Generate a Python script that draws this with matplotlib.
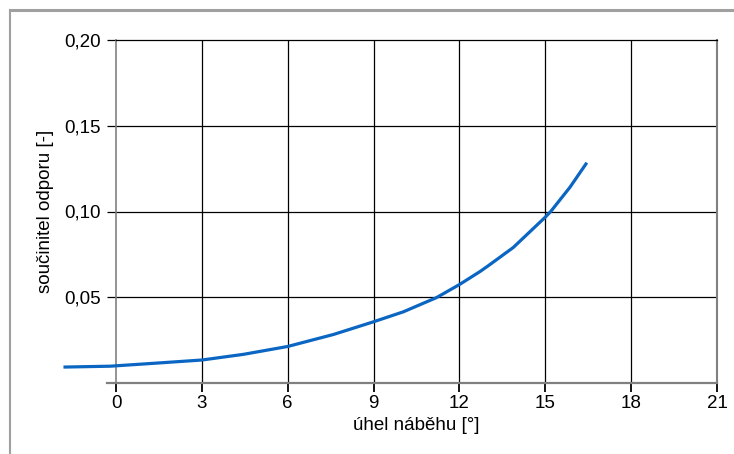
import numpy as np
import matplotlib.pyplot as plt
from matplotlib.lines import Line2D
from matplotlib.ticker import FuncFormatter

plt.rcParams['font.family'] = ['Liberation Sans', 'DejaVu Sans']

# angle of attack [deg] and drag coefficient [-]
uhel = [-1.78, -0.2, 1.42, 3, 4.45, 6, 7.6, 9, 10.04, 11.2, 12, 12.72, 13.01, 13.88, 15, 15.19, 15.86, 16.42]
cd = [0.0093, 0.0098, 0.0116, 0.0134, 0.0167, 0.0213, 0.0283, 0.0357, 0.0415, 0.0498, 0.0574, 0.0650,
      0.0684, 0.0790, 0.0967, 0.1000, 0.1141, 0.1277]

x_ticks = [0, 3, 6, 9, 12, 15, 18, 21]
y_ticks = [0.05, 0.10, 0.15, 0.20]

fig = plt.figure(figsize=(7.34, 4.54), dpi=100)
ax = fig.add_axes([116 / 734, 71 / 454, 601 / 734, 343 / 454])

gray = '#808080'

# figure frame (top and left)
fig.add_artist(Line2D([10 / 734, 10 / 734], [0, 1 - 10 / 454], color='#a0a0a0', lw=1.5))
fig.add_artist(Line2D([10 / 734, 1], [1 - 10 / 454, 1 - 10 / 454], color='#a0a0a0', lw=2.2))

ax.set_xlim(0, 21)
ax.set_ylim(0, 0.2)

# grid
for xv in x_ticks[1:-1]:
    ax.axvline(xv, color='black', lw=0.9, zorder=1)
for yv in y_ticks[:-1]:
    ax.axhline(yv, color='black', lw=0.9, zorder=1)

ax.spines['top'].set_color('black')
ax.spines['top'].set_linewidth(0.9)
ax.spines['right'].set_color(gray)
ax.spines['right'].set_linewidth(1.5)
ax.spines['left'].set_color(gray)
ax.spines['left'].set_linewidth(1.2)
ax.spines['bottom'].set_visible(False)
ax.axhline(0, xmin=-9 / 601, xmax=1, color=gray, lw=1.6, clip_on=False, zorder=3)

ax.plot(uhel, cd, color='#0a66c2', lw=2.3, clip_on=False, zorder=4, solid_joinstyle='round')

ax.set_xticks(x_ticks)
ax.set_yticks(y_ticks)
ax.yaxis.set_major_formatter(FuncFormatter(lambda v, p: f'{v:.2f}'.replace('.', ',')))
ax.tick_params(axis='both', direction='out', length=6.5, width=0.9, color='black',
               labelsize=13.5, labelcolor='black')
ax.tick_params(axis='x', pad=2)
ax.tick_params(axis='y', pad=4.5)
for t in ax.xaxis.get_major_ticks():
    if t.get_loc() in (0, 21):
        t.tick1line.set_color(gray)
        t.tick1line.set_markeredgewidth(1.3)

ax.set_xlabel('úhel náběhu [°]', fontsize=13.5, labelpad=4)
ax.set_ylabel('součinitel odporu [-]', fontsize=13.5, labelpad=7)

fig.savefig('out.png', dpi=100)
